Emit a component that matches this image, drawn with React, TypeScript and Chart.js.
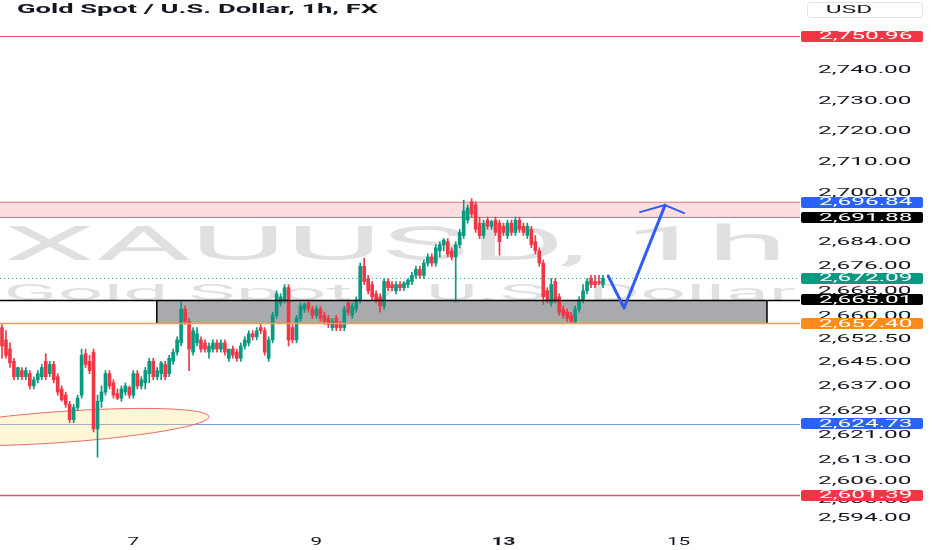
import React, { useEffect, useRef } from 'react';
import { Chart, registerables } from 'chart.js';

Chart.register(...registerables);

// ---- candle data (1h XAUUSD), index = hour slot ----
const opens = [
  2656, 2652, 2649, 2645, 2640, 2642, 2640, 2641, 2637, 2639,
  2640, 2645, 2641, 2644, 2640, 2636, 2634, 2631, 2626, 2630,
  2634, 2647.5, 2645, 2648, 2623, 2632, 2635, 2641, 2638, 2634.5,
  2633, 2635, 2636.5, 2634, 2641, 2637, 2638, 2641, 2645, 2640,
  2641, 2644, 2641, 2645, 2648, 2651, 2662, 2658, 2648, 2651,
  2652, 2651, 2648, 2649, 2651, 2649, 2651, 2646, 2649, 2648,
  2646, 2650, 2651, 2654, 2653, 2656, 2655, 2646, 2652, 2660,
  2664, 2665, 2669, 2656, 2652, 2659, 2662, 2664, 2662, 2660,
  2662, 2660, 2659, 2656, 2659, 2657, 2656, 2664, 2660, 2662,
  2665, 2676, 2672, 2670, 2667, 2666, 2663, 2671, 2670, 2668,
  2670, 2669, 2670, 2671, 2673, 2675, 2673, 2677, 2679, 2677,
  2681, 2683, 2684, 2681, 2679, 2683, 2686, 2691, 2697, 2696,
  2690, 2686, 2691, 2689, 2691, 2690, 2689, 2686, 2690, 2687,
  2691, 2689, 2686, 2688, 2684, 2681, 2677, 2668, 2664, 2671,
  2666, 2662, 2661, 2660, 2658, 2662, 2665, 2668, 2672, 2671,
  2671, 2670,
];
const highs = [
  2657, 2655, 2651, 2646, 2643, 2643, 2643, 2642, 2640, 2642,
  2644, 2647.5, 2645, 2645, 2641, 2637, 2635, 2632, 2631, 2634,
  2649, 2649, 2647, 2649, 2634, 2637, 2642, 2642, 2639, 2636,
  2637, 2638, 2637, 2642, 2642, 2640, 2643, 2646, 2646, 2643,
  2645, 2645, 2647, 2649, 2653, 2664.3, 2663, 2659, 2656, 2656,
  2653, 2652, 2651, 2652, 2652, 2652, 2652, 2649, 2650, 2649,
  2651, 2653, 2655, 2655, 2656, 2657, 2656, 2653, 2661, 2668,
  2667, 2670, 2670, 2657, 2660, 2664, 2664, 2665, 2663, 2663,
  2663, 2661, 2660, 2659, 2660, 2658, 2663, 2665, 2664, 2666,
  2677, 2678.6, 2673, 2671, 2668, 2667, 2672, 2672, 2671, 2671,
  2671, 2671, 2672, 2674, 2676, 2676, 2678, 2680, 2680, 2683,
  2684, 2685, 2685, 2682, 2684, 2688, 2697.5, 2696, 2698, 2697,
  2692, 2691, 2692, 2691, 2692, 2691, 2690, 2691, 2691, 2692,
  2692, 2690, 2690, 2689, 2686, 2682, 2678, 2669, 2672, 2672,
  2667, 2663, 2662, 2661, 2663, 2666, 2670, 2672, 2673, 2673,
  2673, 2673,
];
const lows = [
  2646, 2646, 2643, 2639, 2639, 2639, 2639, 2636, 2636, 2638,
  2639, 2639, 2640, 2638, 2634, 2632, 2630, 2625, 2625, 2629,
  2633, 2643, 2641, 2622, 2613.8, 2630, 2634, 2636, 2633, 2632.5,
  2632, 2634, 2633, 2633, 2636, 2636, 2636, 2638, 2639, 2639,
  2639, 2639, 2640, 2644, 2647, 2650, 2657, 2642, 2647, 2650,
  2648, 2648, 2646, 2648, 2648, 2648, 2647, 2645, 2646, 2645,
  2645, 2649, 2650, 2652, 2652, 2654, 2647, 2645, 2651, 2659,
  2663, 2664, 2650, 2651, 2651, 2658, 2661, 2661, 2659, 2659,
  2658, 2657, 2656, 2655, 2655, 2655, 2655, 2660, 2659, 2661,
  2664, 2670, 2667, 2665, 2664, 2661, 2662, 2668, 2668, 2667,
  2668, 2668, 2669, 2670, 2672, 2672, 2672, 2676, 2676, 2676,
  2679, 2681, 2679, 2678, 2664.3, 2682, 2685, 2690, 2692, 2687,
  2685, 2685, 2688, 2688, 2686, 2679.6, 2686, 2685, 2686, 2686,
  2687, 2686, 2685, 2682, 2680, 2676, 2663.5, 2664, 2663, 2664,
  2660, 2659, 2658, 2657.4, 2657.5, 2661, 2664, 2667, 2669, 2669,
  2670, 2669,
];
const closes = [
  2650, 2647, 2644.5, 2640, 2643, 2640, 2642, 2637, 2639, 2641,
  2643, 2640, 2644, 2639, 2635, 2632.5, 2631, 2626, 2630, 2633,
  2647, 2644, 2642, 2623, 2632, 2635, 2641, 2637, 2634, 2633,
  2636, 2637, 2634, 2641, 2637, 2639, 2642, 2645, 2640, 2642,
  2644.5, 2640, 2646, 2648, 2652, 2662, 2658, 2649, 2655, 2654,
  2649, 2649, 2650, 2651, 2649, 2651, 2648, 2649, 2647, 2646,
  2650, 2652, 2654, 2653, 2655, 2655, 2648, 2652, 2660, 2667,
  2666, 2669, 2652, 2652, 2659, 2663, 2663.5, 2662, 2660, 2662,
  2659, 2658, 2657, 2658, 2656, 2656, 2662, 2661, 2663, 2665,
  2676, 2671, 2668, 2666, 2665, 2663, 2671, 2669, 2669, 2670,
  2669, 2670.5, 2671.5, 2673, 2675, 2673, 2677, 2679, 2677, 2682,
  2683, 2684.5, 2680, 2679, 2683, 2687, 2694, 2695, 2693, 2688,
  2686, 2690, 2689, 2690.5, 2687, 2684, 2687, 2690, 2687, 2691,
  2688, 2687, 2689, 2683, 2681, 2677, 2666, 2665, 2670, 2665,
  2661, 2660, 2659, 2658, 2662, 2665, 2668, 2671, 2670, 2670,
  2670.5, 2672.09,
];

// ---- axes ----
const SLOT_COUNT = 201; // hourly slots across the plot (incl. future space)
const Y_MIN = 2590.07;
const Y_MAX = 2762.7;
const priceTicks = [2740, 2730, 2720, 2710, 2700, 2692, 2684, 2676, 2668, 2660, 2652.5, 2645, 2637, 2629, 2621, 2613, 2606, 2600, 2594];
const dayLabels = ['7', '9', '13', '15'];
const dayIndex = [33, 79, 126, 170];

// ---- drawings (in price / slot coordinates) ----
const RESIST_TOP = 2750.96;
const SUPPORT_BOTTOM = 2601.39;
const BLUE_LEVEL = 2624.73;
const ZONE_LOW = 2657.4;
const ZONE_HIGH = 2665.01;
const TARGET_LOW = 2691.88;
const TARGET_HIGH = 2696.84;
const BOX_START = 38.9;
const BOX_END = 192.2;
const arrowIdx = [152.3, 156.3, 166.6];
const arrowPrice = [2672.8, 2662.4, 2695.9];
const wingIdx = [160.3, 171.4];
const wingPrice = [2693.6, 2693.3];
const ELL_IDX = 14.6;
const ELL_PRICE = 2623.6;
const ELL_HALF_IDX = 37.5;
const ELL_HALF_PRICE = 5.05;
const ELL_TILT = -4;

const UP = '#089981';
const DOWN = '#f23645';
const TEXT = '#131722';

const fmt = (v: number) =>
  v.toLocaleString('en-US', { minimumFractionDigits: 2, maximumFractionDigits: 2 });

function stretchText(ctx: CanvasRenderingContext2D, text: string, x: number, y: number, font: string, color: string, opts: { width?: number; sx?: number; align?: string }) {
  ctx.save();
  ctx.font = font;
  ctx.fillStyle = color;
  ctx.textBaseline = 'middle';
  const w = ctx.measureText(text).width;
  const s = opts.width ? opts.width / w : (opts.sx || 1);
  ctx.translate(x, y);
  ctx.scale(s, 1);
  const a = opts.align || 'left';
  ctx.fillText(text, a === 'left' ? 0 : a === 'right' ? -w : -w / 2, 0);
  ctx.restore();
}

const overlay = {
  id: 'tvOverlay',
  beforeDraw(chart: any) {
    const { ctx, width, height } = chart;
    ctx.save();
    ctx.fillStyle = '#ffffff';
    ctx.fillRect(0, 0, width, height);
    ctx.restore();
  },
  beforeDatasetsDraw(chart: any) {
    const { ctx, chartArea: ca } = chart;
    const X = (v: number) => chart.scales.x.getPixelForValue(v);
    const Y = (v: number) => chart.scales.y.getPixelForValue(v);
    ctx.save();
    ctx.beginPath();
    ctx.rect(ca.left, ca.top, ca.right - ca.left, ca.bottom - ca.top);
    ctx.clip();
    // watermark
    ctx.textBaseline = 'alphabetic';
    const wm = (text: string, font: string, x0: number, x1: number, base: number) => {
      ctx.save();
      ctx.font = font;
      ctx.fillStyle = 'rgba(0,0,0,0.12)';
      const w = ctx.measureText(text).width;
      ctx.translate(x0, base);
      ctx.scale((x1 - x0) / w, 1);
      ctx.fillText(text, 0, 0);
      ctx.restore();
    };
    wm('XAUUSD, 1h', '49px Roboto', ca.left + 3, ca.left + 788, 260);
    wm('Gold Spot / U.S. Dollar', '22px Roboto', ca.left + 3, ca.left + 796, 300);
    // target zone
    const zt = Y(TARGET_HIGH), zb = Y(TARGET_LOW);
    ctx.fillStyle = 'rgba(242,54,69,0.17)';
    ctx.fillRect(ca.left, zt, ca.right - ca.left, zb - zt);
    ctx.lineWidth = 1;
    ctx.strokeStyle = 'rgba(200,90,100,0.8)';
    ctx.beginPath(); ctx.moveTo(ca.left, zt); ctx.lineTo(ca.right, zt); ctx.stroke();
    ctx.strokeStyle = 'rgba(110,100,100,0.75)';
    ctx.beginPath(); ctx.moveTo(ca.left, zb); ctx.lineTo(ca.right, zb); ctx.stroke();
    // demand box
    const bl = X(BOX_START), br = X(BOX_END), bt = Y(ZONE_HIGH), bb = Y(ZONE_LOW);
    ctx.fillStyle = '#a8aaae';
    ctx.fillRect(bl, bt, br - bl, bb - bt);
    ctx.strokeStyle = '#000000';
    ctx.lineWidth = 1.5;
    ctx.beginPath();
    ctx.moveTo(bl, bt); ctx.lineTo(bl, bb);
    ctx.moveTo(br, bt); ctx.lineTo(br, bb);
    ctx.stroke();
    // blue level under the ellipse
    const by = Math.round(Y(BLUE_LEVEL)) + 0.5;
    ctx.strokeStyle = '#7b98e8';
    ctx.lineWidth = 1;
    ctx.beginPath(); ctx.moveTo(ca.left, by); ctx.lineTo(ca.right, by); ctx.stroke();
    // ellipse (below candles)
    const cx = X(ELL_IDX), cy = Y(ELL_PRICE);
    const rx = X(ELL_IDX + ELL_HALF_IDX) - cx;
    const ry = Y(ELL_PRICE - ELL_HALF_PRICE) - cy;
    ctx.beginPath();
    ctx.ellipse(cx, cy, rx, ry, (ELL_TILT * Math.PI) / 180, 0, Math.PI * 2);
    ctx.fillStyle = 'rgba(252,226,120,0.3)';
    ctx.fill();
    ctx.strokeStyle = '#ec6b6b';
    ctx.lineWidth = 1;
    ctx.stroke();
    ctx.restore();
  },
  afterDatasetsDraw(chart: any) {
    const { ctx, chartArea: ca } = chart;
    const X = (v: number) => chart.scales.x.getPixelForValue(v);
    const Y = (v: number) => chart.scales.y.getPixelForValue(v);
    ctx.save();
    ctx.beginPath();
    ctx.rect(ca.left, ca.top, ca.right - ca.left, ca.bottom - ca.top);
    ctx.clip();
    const hline = (v: number, color: string, w: number, dash: number[] = []) => {
      const y = Math.round(Y(v)) + (w % 2 ? 0.5 : 0);
      ctx.save();
      ctx.strokeStyle = color;
      ctx.lineWidth = w;
      ctx.setLineDash(dash);
      ctx.beginPath(); ctx.moveTo(ca.left, y); ctx.lineTo(ca.right, y); ctx.stroke();
      ctx.restore();
    };
    hline(RESIST_TOP, '#e8505b', 1);
    hline(SUPPORT_BOTTOM, '#e05a66', 1.5);
    hline(ZONE_LOW, '#f0a050', 1.5);
    hline(ZONE_HIGH, '#000000', 1.5);
    hline(closes[closes.length - 1], 'rgba(8,153,129,0.8)', 1, [1, 3]);
    // arrow
    ctx.strokeStyle = '#2e5cf5';
    ctx.lineWidth = 3;
    ctx.lineJoin = 'round';
    ctx.lineCap = 'round';
    ctx.beginPath();
    arrowIdx.forEach((ix, k) => {
      const px = X(ix), py = Y(arrowPrice[k]);
      if (k === 0) ctx.moveTo(px, py); else ctx.lineTo(px, py);
    });
    ctx.stroke();
    const tipX = X(arrowIdx[arrowIdx.length - 1]), tipY = Y(arrowPrice[arrowPrice.length - 1]);
    ctx.lineWidth = 2;
    ctx.beginPath();
    wingIdx.forEach((ix, k) => {
      ctx.moveTo(X(ix), Y(wingPrice[k]));
      ctx.lineTo(tipX, tipY);
    });
    ctx.stroke();
    ctx.restore();
  },
  afterDraw(chart: any) {
    const { ctx, chartArea: ca, width } = chart;
    const X = (v: number) => chart.scales.x.getPixelForValue(v);
    const Y = (v: number) => chart.scales.y.getPixelForValue(v);
    const axisFont = '11px Roboto';
    ctx.save();
    ctx.font = axisFont;
    const sx = 93.5 / ctx.measureText('2,740.00').width;
    ctx.restore();
    // right axis background
    ctx.save();
    ctx.fillStyle = '#ffffff';
    ctx.fillRect(ca.right + 1, 0, width - ca.right, ca.bottom);
    ctx.restore();
    const labelX = ca.right + 18;
    priceTicks.forEach((v) => {
      stretchText(ctx, fmt(v), labelX, Y(v) + 0.5, axisFont, TEXT, { sx });
    });
    const tag = (v: number, bg: string, fg: string) => {
      const y = Y(v);
      ctx.save();
      ctx.fillStyle = bg;
      ctx.beginPath();
      (ctx as any).roundRect(ca.right + 1, Math.round(y - 5.5), 122, 11, 2);
      ctx.fill();
      ctx.restore();
      stretchText(ctx, fmt(v), labelX + 1, y + 0.5, axisFont, fg, { sx });
    };
    tag(RESIST_TOP, DOWN, '#ffffff');
    tag(TARGET_HIGH, '#2962ff', '#ffffff');
    tag(TARGET_LOW, '#000000', '#ffffff');
    tag(closes[closes.length - 1], UP, '#ffffff');
    tag(ZONE_HIGH, '#000000', '#ffffff');
    tag(ZONE_LOW, '#fb8c1c', '#ffffff');
    tag(BLUE_LEVEL, '#2962ff', '#ffffff');
    tag(SUPPORT_BOTTOM, DOWN, '#ffffff');
    // USD box
    ctx.save();
    ctx.strokeStyle = '#e0e3eb';
    ctx.lineWidth = 1;
    ctx.beginPath();
    (ctx as any).roundRect(ca.right + 7.5, 2.5, 115, 15, 3);
    ctx.stroke();
    ctx.restore();
    stretchText(ctx, 'USD', ca.right + 49, 10, axisFont, TEXT, { sx, align: 'center' });
    // time axis
    dayLabels.forEach((t, k) => {
      stretchText(ctx, t, X(dayIndex[k]), 542, (t === '13' ? 'bold ' : '') + axisFont, TEXT, { sx: sx * 0.85, align: 'center' });
    });
    // title
    stretchText(ctx, 'Gold Spot / U.S. Dollar, 1h, FX', 17, 10, 'bold 12.5px Roboto', TEXT, { width: 361 });
  },
};

export default function App() {
  const ref = useRef<HTMLCanvasElement | null>(null);
  useEffect(() => {
    document.body.style.margin = '0';
    if (!ref.current) return;
    const colors = opens.map((o, i) => (closes[i] >= o ? UP : DOWN));
    const wickData = opens.map((_, i) => ({ x: i, y: [lows[i], highs[i]] }));
    const bodyData = opens.map((o, i) => ({ x: i, y: [o, closes[i]] }));
    const chart = new Chart(ref.current, {
      type: 'bar',
      data: {
        datasets: [
          { data: wickData as any, backgroundColor: colors, barThickness: 1, grouped: false, borderWidth: 0, order: 2 } as any,
          { data: bodyData as any, backgroundColor: colors, barThickness: 3, grouped: false, borderWidth: 0, minBarLength: 1, order: 1 } as any,
        ],
      },
      options: {
        animation: false,
        responsive: true,
        maintainAspectRatio: false,
        layout: { padding: { left: 0, top: 0, right: 132, bottom: 20 } },
        plugins: { legend: { display: false }, tooltip: { enabled: false } },
        scales: {
          x: { type: 'linear', min: -0.5, max: SLOT_COUNT - 0.5, offset: false, display: false, grid: { display: false } },
          y: { type: 'linear', min: Y_MIN, max: Y_MAX, display: false, grid: { display: false } },
        },
      },
      plugins: [overlay],
    });
    return () => chart.destroy();
  }, []);
  return (
    <div style={{ width: 932, height: 550, position: 'relative' }}>
      <canvas ref={ref} />
    </div>
  );
}
